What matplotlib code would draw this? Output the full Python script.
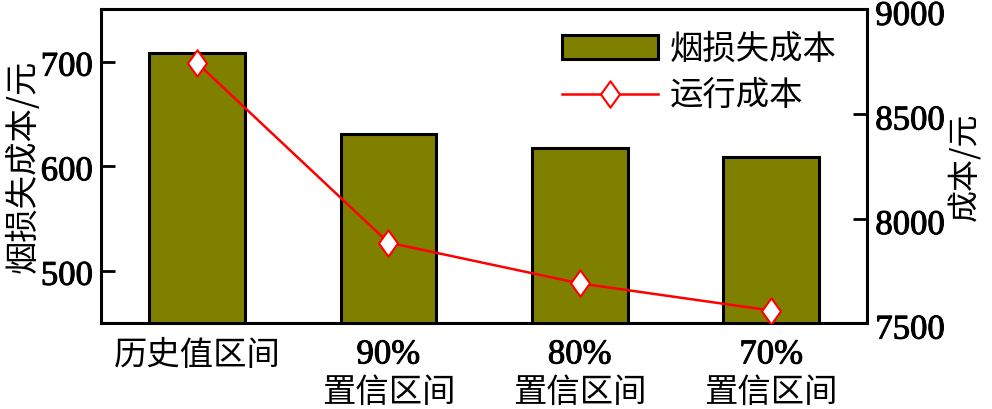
import matplotlib
matplotlib.use('Agg')
import matplotlib.pyplot as plt
import matplotlib.transforms as mtransforms
import matplotlib.patheffects as pe
from matplotlib.path import Path
import numpy as np

plt.rcParams['font.family'] = ['Liberation Serif', 'Noto Sans CJK SC']
plt.rcParams['axes.unicode_minus'] = False

# 数据
top_labels = ['历史值区间', '90%', '80%', '70%']
bottom_labels = ['', '置信区间', '置信区间', '置信区间']
exergy_cost = [708.5, 630.7, 617.0, 608.7]      # 烟损失成本, 左轴
run_cost = [8745, 7885, 7690, 7560]             # 运行成本, 右轴

cjk = ['Noto Sans CJK SC']
serif = ['Liberation Serif']
heavy = [pe.withStroke(linewidth=0.7, foreground='black', joinstyle='miter')]
tall_diamond = Path([(0, 1), (0.72, 0), (0, -1), (-0.72, 0), (0, 1)],
                    [Path.MOVETO, Path.LINETO, Path.LINETO, Path.LINETO, Path.CLOSEPOLY])


def thicken(labels, dy=0.0):
    # 数字用衬线体并稍微加粗, dy 为向下偏移(像素)
    shift = mtransforms.ScaledTranslation(0, -dy / 100, fig.dpi_scale_trans)
    for lab in labels:
        lab.set_family(serif)
        lab.set_path_effects(heavy)
        if dy:
            lab.set_transform(lab.get_transform() + shift)


fig, ax = plt.subplots(figsize=(9.92, 4.09), dpi=100)
fig.subplots_adjust(left=0.102, right=0.874, top=0.977, bottom=0.21)

x = np.arange(len(top_labels))
bars = ax.bar(x, exergy_cost, width=0.5, color='#808000', edgecolor='black',
              linewidth=2.2, zorder=2)
ax.set_xlim(-0.5, 3.5)
ax.set_ylim(450, 750)
ax.set_yticks([500, 600, 700])
ax.set_xticks(x)
ax.set_xticklabels(top_labels)
for lab in ax.get_xticklabels():
    if '%' in lab.get_text():
        lab.set_fontsize(25)
        thicken([lab])
    else:
        lab.set_family(cjk)
        lab.set_fontsize(24)
trans = mtransforms.blended_transform_factory(ax.transData, ax.transAxes)
for xi, name in zip(x, bottom_labels):
    if name:
        ax.text(xi, -0.222, name, transform=trans, ha='center', va='center',
                fontsize=24, family=cjk)

ax.set_ylabel('烟损失成本/元', fontsize=24, family=cjk, labelpad=0)
ax.tick_params(axis='y', direction='in', length=10, width=2, labelsize=25, pad=6)
ax.tick_params(axis='x', direction='in', length=10, width=1.5, pad=11)
thicken(ax.get_yticklabels(), dy=1.5)
for sp in ax.spines.values():
    sp.set_linewidth(2.2)

ax2 = ax.twinx()
line, = ax2.plot(x, run_cost, color='red', linewidth=1.8, marker=tall_diamond,
                 markersize=19, markerfacecolor='white', markeredgecolor='red',
                 markeredgewidth=1.5, zorder=3)
ax2.set_ylim(7500, 9000)
ax2.set_yticks([7500, 8000, 8500, 9000])
ax2.set_ylabel('成本/元', fontsize=23, family=cjk, labelpad=2)
ax2.tick_params(axis='y', direction='in', length=10, width=2, labelsize=25, pad=6)
thicken(ax2.get_yticklabels(), dy=3)

ax.legend([bars, line], ['烟损失成本', '运行成本'], loc='upper right',
          bbox_to_anchor=(1.0, 1.025), frameon=False,
          handlelength=2.9, handletextpad=0.35, labelspacing=0.35,
          prop={'family': cjk, 'size': 24})

fig.savefig('out.png', dpi=100)
